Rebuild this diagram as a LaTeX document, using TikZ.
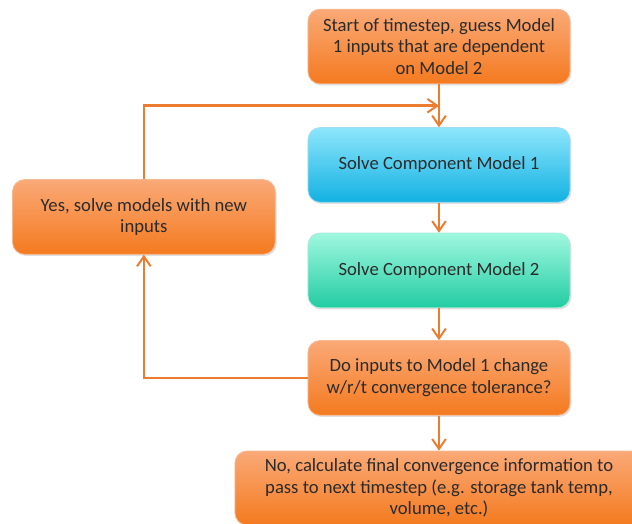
\documentclass[tikz,border=0pt]{standalone}
\usepackage{fontspec}
\setmainfont{Carlito}
\usepackage{xcolor}
\usetikzlibrary{positioning,arrows.meta,calc,shadows}
\definecolor{orangetop}{HTML}{FAA977}
\definecolor{orangebot}{HTML}{F47A1F}
\definecolor{bluetop}{HTML}{8EE6FC}
\definecolor{bluebot}{HTML}{12B1E2}
\definecolor{tealtop}{HTML}{A0F8E0}
\definecolor{tealbot}{HTML}{22CCA2}
\definecolor{edgeorange}{HTML}{F6B890}
\definecolor{edgeblue}{HTML}{9FDDF2}
\definecolor{edgeteal}{HTML}{A6EAD6}
\definecolor{flow}{HTML}{EC7C30}
\definecolor{ink}{HTML}{2B2B2B}
\tikzset{
  box/.style={rectangle, rounded corners=9pt, draw=edgeorange, line width=0.6pt,
              top color=orangetop, bottom color=orangebot, text=ink,
              align=center, font=\fontsize{14pt}{16.2pt}\selectfont,
              minimum width=196.5pt, minimum height=56pt, inner sep=3pt,
              drop shadow={opacity=0.25, shadow xshift=1pt, shadow yshift=-1.2pt}},
  bluebox/.style={box, draw=edgeblue, top color=bluetop, bottom color=bluebot},
  tealbox/.style={box, draw=edgeteal, top color=tealtop, bottom color=tealbot},
  ar/.style={-{Straight Barb[length=2.6mm,width=3.6mm,line width=1.5pt]},
             line width=2pt, draw=flow},
}
\begin{document}
\begin{tikzpicture}
  \useasboundingbox (-329.25pt,-358.125pt) rectangle (144.75pt,34.875pt);

  \node[box] (start) {Start of timestep, guess Model\\1 inputs that are dependent\\on Model 2};
  \node[bluebox, below=32.25pt of start] (model1) {Solve Component Model 1};
  \node[tealbox, below=22.5pt of model1] (model2) {Solve Component Model 2};
  \node[box, below=24pt of model2] (check) {Do inputs to Model 1 change\\w/r/t convergence tolerance?};
  \node[box, below=26.25pt of check, minimum width=306pt, minimum height=55.5pt] (done)
    {No, calculate final convergence information to\\pass to next timestep (e.g. storage tank temp,\\volume, etc.)};
  \node[box, left=24pt of model1, yshift=-39pt, minimum width=197pt] (again)
    {Yes, solve models with new\\inputs};

  \coordinate (join) at ($(start.south)!0.5!(model1.north)$);

  \draw[ar] (start) -- (model1);
  \draw[ar] (model1) -- (model2);
  \draw[ar] (model2) -- (check);
  \draw[ar] (check) -- (done);
  \draw[ar] (check.west) -| (again.south);
  \draw[ar] (again.north) |- (join);
\end{tikzpicture}
\end{document}
